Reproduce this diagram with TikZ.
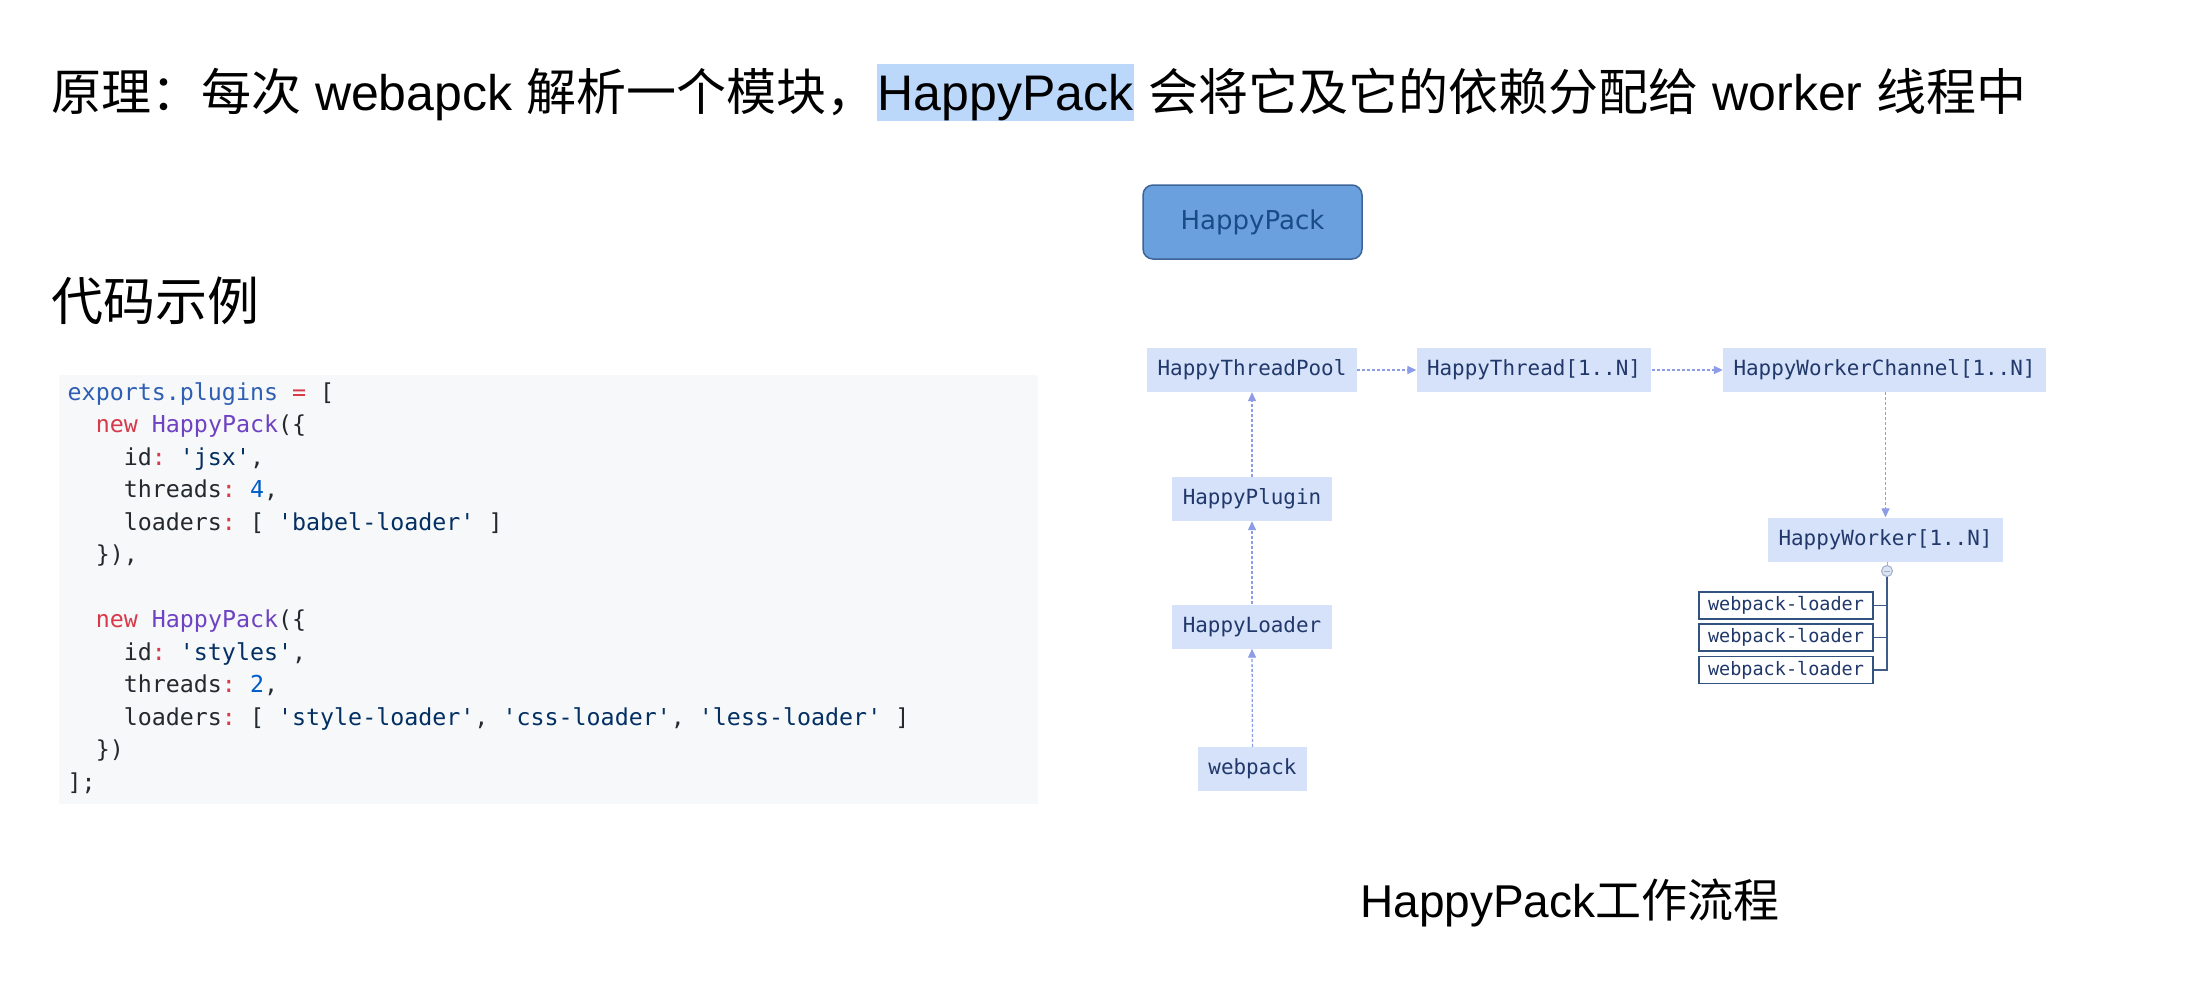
\documentclass[tikz,border=0pt]{standalone}
\usepackage{fontspec}
\setmainfont{Liberation Sans}
\setmonofont{DejaVu Sans Mono}
\newfontfamily\cjk{Noto Sans CJK SC}
\newfontfamily\dejasans{DejaVu Sans}
\usetikzlibrary{arrows.meta}
\definecolor{hlblue}{RGB}{187,215,250}
\definecolor{codebg}{RGB}{246,248,250}
\definecolor{cblue}{HTML}{2F5FB3}
\definecolor{cred}{HTML}{D73A49}
\definecolor{cpurple}{HTML}{6F42C1}
\definecolor{ctext}{HTML}{24292E}
\definecolor{cstr}{HTML}{032F62}
\definecolor{cnum}{HTML}{005CC5}
\definecolor{dfill}{RGB}{214,225,250}
\definecolor{dtext}{RGB}{32,56,106}
\definecolor{darr}{RGB}{140,156,230}
\definecolor{hpfill}{RGB}{106,160,222}
\definecolor{hpdraw}{RGB}{60,100,150}
\definecolor{hptext}{RGB}{25,75,135}
\definecolor{lborder}{RGB}{50,82,128}
\definecolor{tline}{RGB}{62,92,134}
\definecolor{cfill}{RGB}{220,227,243}
\definecolor{cdraw}{RGB}{160,174,200}
\newcommand{\kwr}[1]{\textcolor{cred}{#1}}
\newcommand{\kwp}[1]{\textcolor{cpurple}{#1}}
\newcommand{\kws}[1]{\textcolor{cstr}{#1}}
\newcommand{\kwn}[1]{\textcolor{cnum}{#1}}
\begin{document}
\begin{tikzpicture}[x=1pt,y=-1pt,
  titlefont/.style={font=\fontsize{50}{60}\selectfont},
  codeline/.style={anchor=base west, inner sep=0pt, text=ctext, font=\ttfamily\fontsize{23.3}{28}\selectfont},
  dbox/.style={fill=dfill, text=dtext, font=\ttfamily\fontsize{20.9}{25}\selectfont, inner xsep=10.5pt, inner ysep=0pt, minimum height=44pt},
  arr/.style={draw=darr, line width=1.3pt, dash pattern=on 3pt off 2pt, -{Triangle[length=9pt,width=8pt]}},
  hpbox/.style={rounded corners=10pt, fill=hpfill, draw=hpdraw, line width=1.5pt, minimum width=219pt, minimum height=74pt, text=hptext, font=\dejasans\fontsize{26}{30}\selectfont},
  lbox/.style={draw=lborder, line width=1.5pt, fill=white, text=dtext, font=\ttfamily\fontsize{18.5}{22}\selectfont, minimum width=174pt, minimum height=27pt, inner sep=0pt},
  trunk/.style={draw=tline, line width=1.6pt}
]
\useasboundingbox (0,0) rectangle (2200,986);
\fill[white] (0,0) rectangle (2200,986);

% title
\node[titlefont, anchor=base west, inner sep=0pt] (t1) at (51,110) {{\cjk 原理：每次} webapck {\cjk 解析一个模块，}};
\node[titlefont, anchor=base west, fill=hlblue, inner xsep=1pt, inner ysep=0pt, text height=46pt, text depth=11pt] (t2) at (t1.base east) {HappyPack};
\node[titlefont, anchor=base west, inner sep=0pt] (t3) at (t2.base east) {\ {\cjk 会将它及它的依赖分配给} worker {\cjk 线程中}};

% subtitle
\node[anchor=base west, inner sep=0pt, font=\cjk\fontsize{52}{60}\selectfont] (sub) at (51,320) {代码示例};

% code block
\node[fill=codebg, minimum width=979pt, minimum height=429pt, inner sep=0pt, anchor=north west] (codebg) at (59,375) {};
\node[codeline] (c0) at (67.5,400) {\textcolor{cblue}{exports.plugins} \kwr{=} [};
\node[codeline] (c1) at (95.6,432.5) {\kwr{new} \kwp{HappyPack}(\{};
\node[codeline] (c2) at (123.6,465) {id\kwr{:} \kws{'jsx'},};
\node[codeline] (c3) at (123.6,497.5) {threads\kwr{:} \kwn{4},};
\node[codeline] (c4) at (123.6,530) {loaders\kwr{:} [ \kws{'babel-loader'} ]};
\node[codeline] (c5) at (95.6,562.5) {\}),};
\node[codeline] (c7) at (95.6,627.5) {\kwr{new} \kwp{HappyPack}(\{};
\node[codeline] (c8) at (123.6,660) {id\kwr{:} \kws{'styles'},};
\node[codeline] (c9) at (123.6,692.5) {threads\kwr{:} \kwn{2},};
\node[codeline] (c10) at (123.6,725) {loaders\kwr{:} [ \kws{'style-loader'}, \kws{'css-loader'}, \kws{'less-loader'} ]};
\node[codeline] (c11) at (95.6,757.5) {\})};
\node[codeline] (c12) at (67.5,790) {];};

% diagram
\node[hpbox] (hp) at (1252.5,222) {HappyPack};
\node[dbox] (htp) at (1252,370) {HappyThreadPool};
\node[dbox] (ht) at (1534,370) {HappyThread[1..N]};
\node[dbox] (hwc) at (1884.5,370) {HappyWorkerChannel[1..N]};
\node[dbox] (hpl) at (1252,499) {HappyPlugin};
\node[dbox] (hl) at (1252,626.5) {HappyLoader};
\node[dbox] (wp) at (1252.5,769) {webpack};
\node[dbox] (hw) at (1885.5,539.5) {HappyWorker[1..N]};

\draw[arr] (htp.east) -- (ht.west);
\draw[arr] (ht.east) -- (hwc.west);
\draw[arr] (hpl.north) -- (htp.south);
\draw[arr] (hl.north) -- (hpl.south);
\draw[arr] (wp.north) -- (hl.south);
\draw[arr] (hwc.south -| hw.north) -- (hw.north);

% worker loaders
\node[circle, fill=cfill, draw=cdraw, line width=1pt, minimum size=11pt, inner sep=0pt] (col) at (1887,571) {};
\draw[cdraw, line width=1pt] ([xshift=-3pt]col.center) -- ([xshift=3pt]col.center);
\draw[cdraw, line width=1pt] (col.north |- hw.south) -- (col.north);
\coordinate (tend) at (1887,671);
\draw[trunk] (col.south) -- (tend);
\node[lbox] (l1) at (1786,605.5) {webpack-loader};
\node[lbox] (l2) at (1786,637.5) {webpack-loader};
\node[lbox] (l3) at (1786,670) {webpack-loader};
\draw[trunk] (l1.east) -- (l1.east -| tend);
\draw[trunk] (l2.east) -- (l2.east -| tend);
\draw[trunk] (l3.east) -- (l3.east -| tend);

% caption
\node[anchor=base west, inner sep=0pt, font=\fontsize{46}{55}\selectfont] (cap) at (1360,917) {HappyPack{\cjk 工作流程}};
\end{tikzpicture}
\end{document}
